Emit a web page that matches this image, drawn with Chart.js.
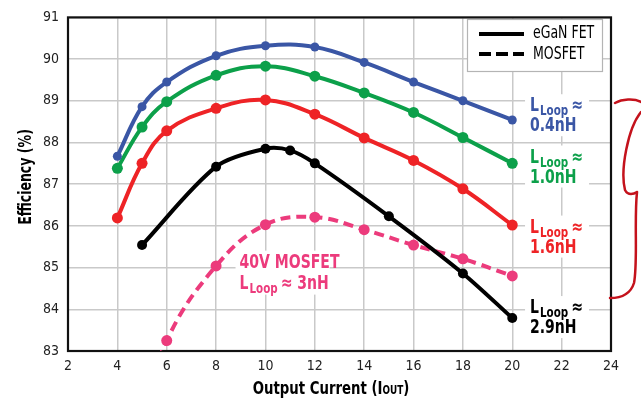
<!DOCTYPE html>
<html>
<head>
<meta charset="utf-8">
<script src="https://cdn.jsdelivr.net/npm/chart.js@4/dist/chart.umd.min.js"></script>
<style>
  html, body { margin: 0; padding: 0; background: #fff; }
  #wrap { width: 641px; height: 399px; }
</style>
</head>
<body>
<div id="wrap"><canvas id="effChart"></canvas></div>
<script>
// values
var currentX = [4, 5, 6, 8, 10, 12, 14, 16, 18, 20];
var loop04 = [87.67, 88.86, 89.45, 90.08, 90.32, 90.29, 89.92, 89.45, 89.0, 88.54];
var loop10 = [87.38, 88.37, 88.98, 89.61, 89.83, 89.59, 89.19, 88.72, 88.12, 87.5];
var loop16 = [86.19, 87.5, 88.28, 88.82, 89.02, 88.68, 88.11, 87.57, 86.89, 86.02];
var egan29X = [5, 8, 10, 11, 12, 15, 18, 20];
var egan29 = [85.54, 87.42, 87.85, 87.81, 87.5, 86.23, 84.86, 83.79];
var mosfetX = [5, 6, 8, 10, 12, 14, 16, 18, 20];
var mosfet3 = [81.3, 83.25, 85.04, 86.03, 86.21, 85.91, 85.54, 85.21, 84.8];
var xTicks = [2, 4, 6, 8, 10, 12, 14, 16, 18, 20, 22, 24];
var yTicks = [83, 84, 85, 86, 87, 88, 89, 90, 91];

var FONT = "'Liberation Sans Narrow', 'DejaVu Sans Condensed', 'Arial Narrow', sans-serif";
var BLUE = '#3a56a5', GREEN = '#0ca04a', RED = '#ee2326', PINK = '#ec3b7c', DARKRED = '#c4121c';
var SQUEEZE = 0.82;

function pts(xs, ys) {
    return xs.map(function (x, i) { return { x: x, y: ys[i] }; });
}

// label positions in data units (x, y of first line baseline)
var loopLabels = [
    { x: 20.72, y: 88.75, color: BLUE, value: '0.4nH' },
    { x: 20.72, y: 87.52, color: GREEN, value: '1.0nH' },
    { x: 20.72, y: 85.84, color: RED, value: '1.6nH' },
    { x: 20.72, y: 83.91, color: '#000', value: '2.9nH' }
];

// narrow text, the font on the picture is a condensed one
function say(ctx, str, x, y, font, align) {
    ctx.save();
    ctx.font = font;
    ctx.translate(x, y);
    ctx.scale(SQUEEZE, 1);
    ctx.textAlign = align || 'left';
    ctx.fillText(str, 0, 0);
    var w = ctx.measureText(str).width * SQUEEZE;
    ctx.restore();
    return w;
}

function drawLoop(ctx, x, y, color, tail) {
    ctx.fillStyle = color;
    ctx.textBaseline = 'alphabetic';
    var w = say(ctx, 'L', x, y, 'bold 19px ' + FONT) + 1;
    w += say(ctx, 'Loop', x + w, y + 4, 'bold 14px ' + FONT) + 3;
    say(ctx, '\u2248' + (tail || ''), x + w, y, 'bold 19px ' + FONT);
}

var decor = {
    id: 'decor',
    beforeDatasetsDraw: function (chart) {
        var ctx = chart.ctx, a = chart.chartArea, xs = chart.scales.x, ys = chart.scales.y;
        ctx.save();
        ctx.fillStyle = '#fff';
        loopLabels.forEach(function (l) {
            var px = xs.getPixelForValue(l.x), py = ys.getPixelForValue(l.y);
            ctx.fillRect(px - 5, py - 17, 64, 42);
        });
        var mx = xs.getPixelForValue(8.95), my = ys.getPixelForValue(85.0);
        ctx.fillRect(mx - 4, my - 17, 94, 44);
        // legend box
        ctx.fillRect(467, 19, 135, 52);
        ctx.strokeStyle = '#b4b4b4';
        ctx.lineWidth = 1.2;
        ctx.strokeRect(467.5, 19.5, 135, 52);
        // frame
        ctx.strokeStyle = '#111';
        ctx.lineWidth = 2.2;
        ctx.strokeRect(a.left, a.top, a.right - a.left, a.bottom - a.top);
        ctx.restore();
    },
    afterDatasetsDraw: function (chart) {
        var ctx = chart.ctx, xs = chart.scales.x, ys = chart.scales.y;
        ctx.save();
        loopLabels.forEach(function (l) {
            var px = xs.getPixelForValue(l.x), py = ys.getPixelForValue(l.y);
            drawLoop(ctx, px, py, l.color);
            say(ctx, l.value, px, py + 20, 'bold 19px ' + FONT);
        });
        var mx = xs.getPixelForValue(8.95), my = ys.getPixelForValue(85.0);
        ctx.fillStyle = PINK;
        say(ctx, '40V MOSFET', mx, my, 'bold 19px ' + FONT);
        drawLoop(ctx, mx, my + 21, PINK, ' 3nH');

        // legend
        ctx.strokeStyle = '#000';
        ctx.lineWidth = 4;
        ctx.beginPath(); ctx.moveTo(479, 34); ctx.lineTo(524, 34); ctx.stroke();
        ctx.setLineDash([12, 5]);
        ctx.beginPath(); ctx.moveTo(479, 54); ctx.lineTo(524, 54); ctx.stroke();
        ctx.setLineDash([]);
        ctx.fillStyle = '#000';
        ctx.textBaseline = 'middle';
        say(ctx, 'eGaN FET', 533, 34, '17px ' + FONT);
        say(ctx, 'MOSFET', 533, 55, '17px ' + FONT);

        // axis titles
        ctx.textBaseline = 'alphabetic';
        ctx.save();
        ctx.font = 'bold 18px ' + FONT;
        var w1 = ctx.measureText('Output Current (I').width * SQUEEZE;
        var w3 = ctx.measureText(')').width * SQUEEZE;
        ctx.font = 'bold 12px ' + FONT;
        var w2 = ctx.measureText('OUT').width * SQUEEZE;
        ctx.restore();
        var sx = 331 - (w1 + w2 + w3) / 2;
        say(ctx, 'Output Current (I', sx, 394, 'bold 18px ' + FONT);
        say(ctx, 'OUT', sx + w1, 394, 'bold 12px ' + FONT);
        say(ctx, ')', sx + w1 + w2, 394, 'bold 18px ' + FONT);

        ctx.save();
        ctx.translate(27, 177);
        ctx.rotate(-Math.PI / 2);
        ctx.textBaseline = 'middle';
        say(ctx, 'Efficiency (%)', 0, 0, 'bold 17px ' + FONT, 'center');
        ctx.restore();
        ctx.restore();

        // hand drawn bracket
        ctx.save();
        ctx.strokeStyle = DARKRED;
        ctx.lineWidth = 2.5;
        ctx.lineCap = 'round';
        ctx.beginPath();
        ctx.moveTo(615, 103);
        ctx.bezierCurveTo(622, 99, 634, 98, 641, 102);
        ctx.moveTo(641, 112);
        ctx.bezierCurveTo(628, 128, 620, 170, 625, 190);
        ctx.bezierCurveTo(628, 196, 634, 194, 637, 192);
        ctx.moveTo(637, 192);
        ctx.bezierCurveTo(634, 220, 638, 262, 634, 283);
        ctx.bezierCurveTo(630, 296, 618, 298, 610, 298);
        ctx.stroke();
        ctx.restore();
    }
};

function lineSet(label, data, color, radius, dash, tension) {
    return {
        label: label,
        data: data,
        borderColor: color,
        backgroundColor: color,
        borderWidth: 4,
        pointRadius: radius,
        pointHoverRadius: radius,
        pointBorderWidth: 0,
        borderDash: dash || [],
        tension: tension || 0.4,
        fill: false
    };
}

var ctxEff = document.getElementById('effChart');
var effChart = new Chart(ctxEff, {
    type: 'line',
    data: {
        datasets: [
            lineSet('L Loop 0.4nH', pts(currentX, loop04), BLUE, 4.5),
            lineSet('L Loop 1.0nH', pts(currentX, loop10), GREEN, 5.5),
            lineSet('L Loop 1.6nH', pts(currentX, loop16), RED, 5.5),
            lineSet('eGaN FET 2.9nH', pts(egan29X, egan29), '#000', 5, null, 0.3),
            lineSet('40V MOSFET 3nH', pts(mosfetX, mosfet3), PINK, mosfetX.map(function (x) { return x < 6 ? 0 : 5.5; }), [10, 6])
        ]
    },
    options: {
        responsive: true,
        maintainAspectRatio: false,
        animation: false,
        layout: { padding: { top: 10, right: 30, left: 0, bottom: 0 } },
        plugins: { legend: { display: false }, tooltip: { enabled: false } },
        scales: {
            x: {
                type: 'linear',
                min: 2, max: 24,
                afterBuildTicks: function (s) { s.ticks = xTicks.map(function (v) { return { value: v }; }); },
                afterFit: function (s) { s.height = 48; },
                grid: { color: '#c9c9c9', lineWidth: 1.5, drawTicks: false },
                border: { display: false },
                ticks: { color: '#222', padding: 7, font: { family: FONT, size: 14 } }
            },
            y: {
                min: 83, max: 91,
                afterBuildTicks: function (s) { s.ticks = yTicks.map(function (v) { return { value: v }; }); },
                afterFit: function (s) { s.width = 68; },
                grid: { color: '#c9c9c9', lineWidth: 1.5, drawTicks: false },
                border: { display: false },
                ticks: { color: '#222', padding: 9, font: { family: FONT, size: 14 } }
            }
        }
    },
    plugins: [decor]
});
</script>
</body>
</html>
